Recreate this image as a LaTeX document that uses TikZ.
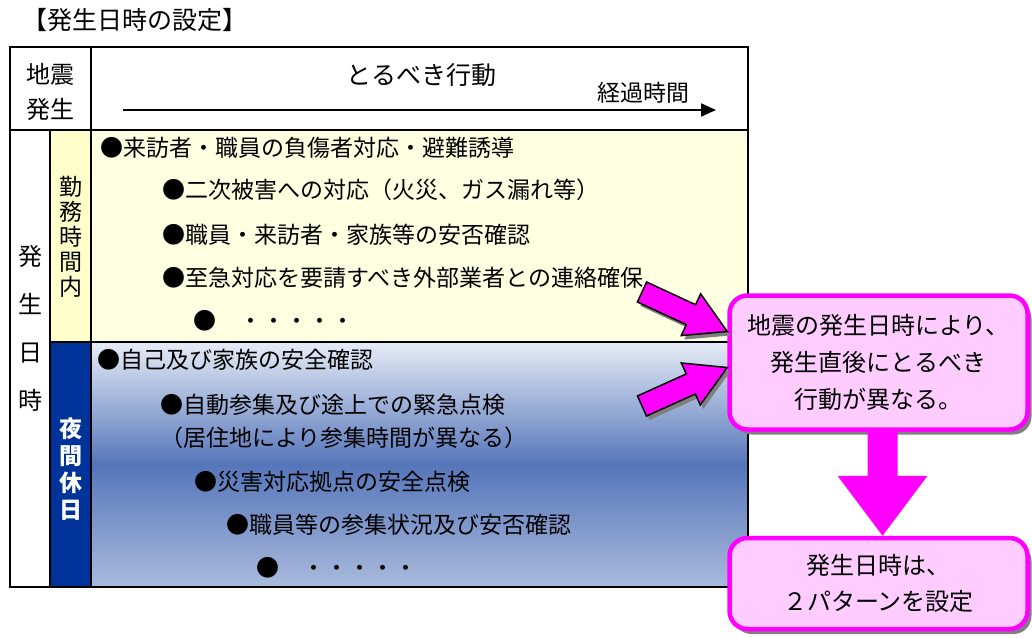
\documentclass[tikz,border=0pt]{standalone}
\usepackage{fontspec}
\setmainfont{Noto Sans CJK JP}
\usetikzlibrary{positioning,calc,shadows,arrows.meta}

\definecolor{nightblue}{HTML}{003399}
\definecolor{nighttop}{HTML}{E6ECF6}
\definecolor{nightmid}{HTML}{5676BA}
\definecolor{nightlow}{HTML}{A9BADC}
\definecolor{lemon}{HTML}{FFFFCC}
\definecolor{paleyellow}{HTML}{FFFFE2}
\definecolor{hotpink}{HTML}{FF00FF}
\definecolor{calloutpink}{HTML}{FFCCFF}

% block arrow: style, tail, tip, half shaft, half head, head length
\newcommand{\blockarrow}[6]{%
  \coordinate (#2-neck) at ($(#3)!#6!(#2)$);
  \filldraw[#1] ($(#2)!#4!90:(#3)$) -- ($(#2-neck)!#4!90:(#3)$)
    -- ($(#2-neck)!#5!90:(#3)$) -- (#3) -- ($(#2-neck)!#5!-90:(#3)$)
    -- ($(#2-neck)!#4!-90:(#3)$) -- ($(#2)!#4!-90:(#3)$) -- cycle;
}

\begin{document}
\begin{tikzpicture}[
                            x=1pt,
                            y=1pt,
                            grid/.style={line width=2pt},
                            item/.style={anchor=west, inner sep=0pt, font=\fontsize{23}{28}\selectfont},
                            label/.style={inner sep=0pt, align=center},
                            callout/.style={draw=hotpink, line width=4.5pt, fill=calloutpink,
                                rounded corners=18pt, minimum width=298pt, align=center,
                                font=\fontsize{24}{37}\selectfont,
                                drop shadow={fill=gray, opacity=1, shadow xshift=4pt, shadow yshift=-5pt}},
                            sidearrow/.style={fill=hotpink, draw=black, line width=1.5pt, line join=miter,
                                drop shadow={fill=gray, opacity=1, shadow xshift=3pt, shadow yshift=-4pt}}
                        ]
                        \useasboundingbox (0,0) rectangle (1032,-637);

                        % title
                        \node[label, anchor=west, font=\fontsize{25}{28}\selectfont] (title) at (22,-20) {【発生日時の設定】};

                        % fills
                        \fill[paleyellow] (91,-130) rectangle (748,-342);
                        \fill[lemon] (50,-130) rectangle (91,-342);
                        \shade[top color=nighttop, bottom color=nightlow, middle color=nightmid]
                            (91,-342) rectangle (748,-587);
                        \fill[nightblue] (50,-342) rectangle (91,-587);

                        % table
                        \draw[grid] (10,-47) rectangle (748,-587);
                        \draw[grid] (10,-130) -- (748,-130);
                        \draw[grid] (91,-47) -- (91,-587);
                        \draw[grid] (50,-130) -- (50,-587);
                        \draw[grid] (50,-342) -- (748,-342);

                        % header
                        \node[label, font=\fontsize{24}{35}\selectfont] (quake) at (50.5,-92) {地震\\発生};
                        \node[label, font=\fontsize{25}{30}\selectfont] (action) at (421,-75) {とるべき行動};
                        \node[label, anchor=east, font=\fontsize{23}{28}\selectfont] (elapsed) at (690,-93) {経過時間};
                        \coordinate (time0) at (123,-110);
                        \coordinate (time1) at (716,-110);
                        \draw[line width=2pt, -{Triangle[length=15pt,width=13pt]}] (time0) -- (time1);

                        % left columns
                        \node[label, font=\fontsize{24}{48}\selectfont] (when) at (30,-328) {発\\生\\日\\時};
                        \node[label, font=\fontsize{23}{25}\selectfont] (work) at (70.5,-237) {勤\\務\\時\\間\\内};
                        \node[label, text=white, font=\fontsize{23}{27}\selectfont\bfseries] (night) at (70.5,-469) {夜\\間\\休\\日};

                        % working hours
                        \node[item] (w1) at (100,-148) {●来訪者・職員の負傷者対応・避難誘導};
                        \node[item] (w2) at (162,-190) {●二次被害への対応（火災、ガス漏れ等）};
                        \node[item] (w3) at (162,-235) {●職員・来訪者・家族等の安否確認};
                        \node[item] (w4) at (162,-278) {●至急対応を要請すべき外部業者との連絡確保};
                        \node[item] (w5) at (193,-321) {●　・・・・・};

                        % night and holidays
                        \node[item] (n1) at (97,-360) {●自己及び家族の安全確認};
                        \node[item, align=left, font=\fontsize{23}{33}\selectfont] (n2) at (160,-421) {●自動参集及び途上での緊急点検\\（居住地により参集時間が異なる）};
                        \node[item] (n3) at (194,-482) {●災害対応拠点の安全点検};
                        \node[item] (n4) at (226,-525) {●職員等の参集状況及び安否確認};
                        \node[item] (n5) at (256,-568) {●　・・・・・};

                        % callouts
                        \node[callout, minimum height=134pt] (differ) at (878.5,-362.5) {地震の発生日時により、\\発生直後にとるべき\\行動が異なる。};
                        \node[callout, minimum height=91pt, font=\fontsize{24}{36}\selectfont] (twopat) [below=104pt of differ] {発生日時は、\\２パターンを設定};

                        % arrows
                        \coordinate (tail1) at (642,-292);
                        \coordinate (tail2) at (642,-406);
                        \coordinate (tip1) at ([yshift=31pt]differ.west);
                        \coordinate (tip2) at ([yshift=-5pt]differ.west);
                        \blockarrow{sidearrow}{tail1}{tip1}{11pt}{23pt}{40pt}
                        \blockarrow{sidearrow}{tail2}{tip2}{11pt}{23pt}{40pt}
                        \coordinate (drop0) at ([xshift=4pt]differ.south);
                        \coordinate (drop1) at ([xshift=4pt]twopat.north);
                        \blockarrow{fill=hotpink, draw=none}{drop0}{drop1}{15pt}{45pt}{60pt}
                    \end{tikzpicture}
\end{document}
